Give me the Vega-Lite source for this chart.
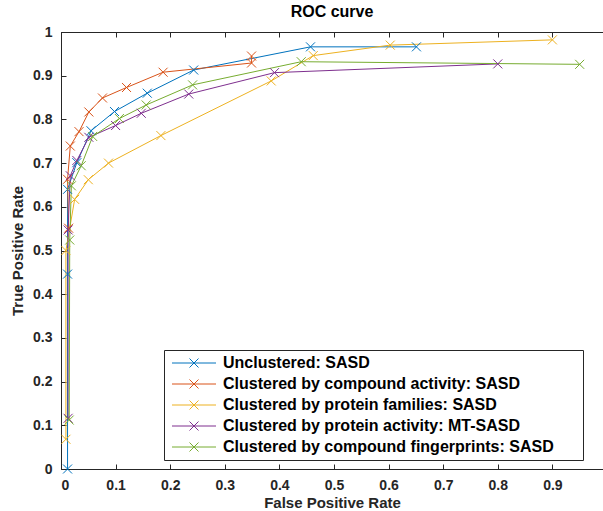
{
  "$schema": "https://vega.github.io/schema/vega-lite/v6.json",
  "width": 542,
  "height": 437,
  "autosize": {"type": "none"},
  "padding": {"left": 61, "top": 32, "right": 0, "bottom": 42},
  "background": "white",
  "title": {"text": "ROC curve", "font": "Liberation Sans", "fontSize": 16, "fontWeight": "bold", "color": "#000000", "offset": 5, "anchor": "middle"},
  "data": {"values": [
    {"s": "Unclustered: SASD", "i": 1, "fpr": 0.012, "tpr": 0.0},
    {"s": "Unclustered: SASD", "i": 2, "fpr": 0.012, "tpr": 0.446},
    {"s": "Unclustered: SASD", "i": 3, "fpr": 0.012, "tpr": 0.64},
    {"s": "Unclustered: SASD", "i": 4, "fpr": 0.029, "tpr": 0.701},
    {"s": "Unclustered: SASD", "i": 5, "fpr": 0.055, "tpr": 0.774},
    {"s": "Unclustered: SASD", "i": 6, "fpr": 0.098, "tpr": 0.818},
    {"s": "Unclustered: SASD", "i": 7, "fpr": 0.158, "tpr": 0.86},
    {"s": "Unclustered: SASD", "i": 8, "fpr": 0.243, "tpr": 0.913},
    {"s": "Unclustered: SASD", "i": 9, "fpr": 0.457, "tpr": 0.966},
    {"s": "Unclustered: SASD", "i": 10, "fpr": 0.651, "tpr": 0.966},
    {"s": "Clustered by compound activity: SASD", "i": 1, "fpr": 0.014, "tpr": 0.551},
    {"s": "Clustered by compound activity: SASD", "i": 2, "fpr": 0.012, "tpr": 0.663},
    {"s": "Clustered by compound activity: SASD", "i": 3, "fpr": 0.017, "tpr": 0.739},
    {"s": "Clustered by compound activity: SASD", "i": 4, "fpr": 0.033, "tpr": 0.772},
    {"s": "Clustered by compound activity: SASD", "i": 5, "fpr": 0.051, "tpr": 0.817},
    {"s": "Clustered by compound activity: SASD", "i": 6, "fpr": 0.076, "tpr": 0.849},
    {"s": "Clustered by compound activity: SASD", "i": 7, "fpr": 0.12, "tpr": 0.873},
    {"s": "Clustered by compound activity: SASD", "i": 8, "fpr": 0.187, "tpr": 0.908},
    {"s": "Clustered by compound activity: SASD", "i": 9, "fpr": 0.349, "tpr": 0.929},
    {"s": "Clustered by compound activity: SASD", "i": 10, "fpr": 0.349, "tpr": 0.945},
    {"s": "Clustered by protein families: SASD", "i": 1, "fpr": 0.009, "tpr": 0.068},
    {"s": "Clustered by protein families: SASD", "i": 2, "fpr": 0.009, "tpr": 0.5},
    {"s": "Clustered by protein families: SASD", "i": 3, "fpr": 0.025, "tpr": 0.617},
    {"s": "Clustered by protein families: SASD", "i": 4, "fpr": 0.05, "tpr": 0.662},
    {"s": "Clustered by protein families: SASD", "i": 5, "fpr": 0.087, "tpr": 0.7},
    {"s": "Clustered by protein families: SASD", "i": 6, "fpr": 0.183, "tpr": 0.763},
    {"s": "Clustered by protein families: SASD", "i": 7, "fpr": 0.385, "tpr": 0.888},
    {"s": "Clustered by protein families: SASD", "i": 8, "fpr": 0.462, "tpr": 0.946},
    {"s": "Clustered by protein families: SASD", "i": 9, "fpr": 0.603, "tpr": 0.97},
    {"s": "Clustered by protein families: SASD", "i": 10, "fpr": 0.9, "tpr": 0.982},
    {"s": "Clustered by protein activity: MT-SASD", "i": 1, "fpr": 0.013, "tpr": 0.116},
    {"s": "Clustered by protein activity: MT-SASD", "i": 2, "fpr": 0.013, "tpr": 0.547},
    {"s": "Clustered by protein activity: MT-SASD", "i": 3, "fpr": 0.017, "tpr": 0.671},
    {"s": "Clustered by protein activity: MT-SASD", "i": 4, "fpr": 0.029, "tpr": 0.706},
    {"s": "Clustered by protein activity: MT-SASD", "i": 5, "fpr": 0.051, "tpr": 0.759},
    {"s": "Clustered by protein activity: MT-SASD", "i": 6, "fpr": 0.1, "tpr": 0.786},
    {"s": "Clustered by protein activity: MT-SASD", "i": 7, "fpr": 0.147, "tpr": 0.814},
    {"s": "Clustered by protein activity: MT-SASD", "i": 8, "fpr": 0.234, "tpr": 0.858},
    {"s": "Clustered by protein activity: MT-SASD", "i": 9, "fpr": 0.391, "tpr": 0.907},
    {"s": "Clustered by protein activity: MT-SASD", "i": 10, "fpr": 0.8, "tpr": 0.927},
    {"s": "Clustered by compound fingerprints: SASD", "i": 1, "fpr": 0.015, "tpr": 0.112},
    {"s": "Clustered by compound fingerprints: SASD", "i": 2, "fpr": 0.016, "tpr": 0.524},
    {"s": "Clustered by compound fingerprints: SASD", "i": 3, "fpr": 0.019, "tpr": 0.648},
    {"s": "Clustered by compound fingerprints: SASD", "i": 4, "fpr": 0.037, "tpr": 0.694},
    {"s": "Clustered by compound fingerprints: SASD", "i": 5, "fpr": 0.058, "tpr": 0.761},
    {"s": "Clustered by compound fingerprints: SASD", "i": 6, "fpr": 0.107, "tpr": 0.802},
    {"s": "Clustered by compound fingerprints: SASD", "i": 7, "fpr": 0.156, "tpr": 0.833},
    {"s": "Clustered by compound fingerprints: SASD", "i": 8, "fpr": 0.241, "tpr": 0.879},
    {"s": "Clustered by compound fingerprints: SASD", "i": 9, "fpr": 0.44, "tpr": 0.932},
    {"s": "Clustered by compound fingerprints: SASD", "i": 10, "fpr": 0.95, "tpr": 0.926}
  ]},
  "encoding": {
    "y": {"field": "tpr", "type": "quantitative", "scale": {"domain": [0, 1], "nice": false, "zero": false},
      "axis": {"values": [0, 0.1, 0.2, 0.3, 0.4, 0.5, 0.6, 0.7, 0.8, 0.9, 1], "format": ".1~f", "tickSize": -5, "labelPadding": 14, "title": "True Positive Rate", "titlePadding": 7}},
    "color": {"field": "s", "type": "nominal",
      "scale": {"domain": ["Unclustered: SASD", "Clustered by compound activity: SASD", "Clustered by protein families: SASD", "Clustered by protein activity: MT-SASD", "Clustered by compound fingerprints: SASD"],
        "range": ["#0072BD", "#D95319", "#EDB120", "#7E2F8E", "#77AC30"]},
      "legend": {"orient": "none", "legendX": 103, "legendY": 318, "title": null, "strokeColor": "#262626", "fillColor": "white", "padding": 5,
        "labelFont": "Liberation Sans", "labelFontSize": 16, "labelFontWeight": "bold", "labelColor": "#000000", "labelLimit": 0,
        "symbolType": "M-4.4,0H4.4M-0.9,-0.9L0.9,0.9M-0.9,0.9L0.9,-0.9", "symbolSize": 100, "symbolStrokeWidth": 1, "symbolFillColor": "transparent",
        "symbolOffset": 17, "labelOffset": 21, "rowPadding": 5,
        "encode": {"labels": {"update": {"text": {"signal": "datum.label + '\u2800\u2800'"}}}}}},
    "order": {"field": "i", "type": "quantitative"}
  },
  "layer": [
    {
      "mark": {"type": "line", "strokeWidth": 1},
      "encoding": {
        "x": {"field": "fpr", "type": "quantitative", "scale": {"domain": [0, 0.9927], "nice": false, "zero": false},
          "axis": {"orient": "bottom", "values": [0, 0.1, 0.2, 0.3, 0.4, 0.5, 0.6, 0.7, 0.8, 0.9], "format": ".1~f", "tickSize": -5, "labelPadding": 14, "title": "False Positive Rate", "titlePadding": 3}}
      }
    },
    {
      "mark": {"type": "point", "shape": "M-1,-1L1,1M-1,1L1,-1", "filled": false, "size": 81, "strokeWidth": 1, "opacity": 1},
      "encoding": {
        "x": {"field": "fpr", "type": "quantitative",
          "axis": {"orient": "top", "values": [0, 0.1, 0.2, 0.3, 0.4, 0.5, 0.6, 0.7, 0.8, 0.9], "labels": false, "tickSize": -5, "title": null}}
      }
    }
  ],
  "resolve": {"axis": {"x": "independent"}},
  "config": {
    "view": {"stroke": "#262626", "strokeWidth": 1},
    "axis": {"domainColor": "#262626", "tickColor": "#262626", "labelColor": "#262626", "titleColor": "#262626",
      "labelFont": "Liberation Sans", "titleFont": "Liberation Sans", "labelFontSize": 14, "labelFontWeight": "bold",
      "titleFontSize": 15, "titleFontWeight": "bold", "grid": false, "domainWidth": 1, "tickWidth": 1}
  }
}
